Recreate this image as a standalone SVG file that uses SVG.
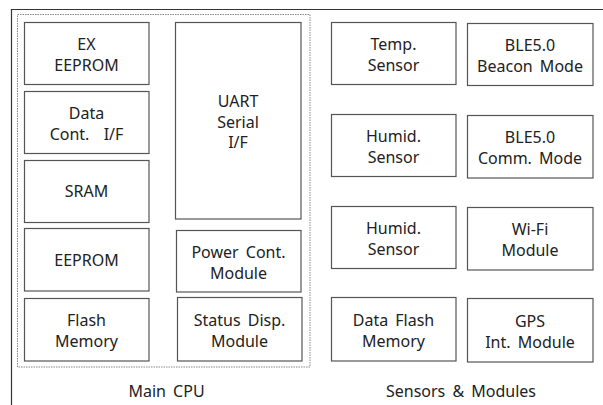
<svg xmlns="http://www.w3.org/2000/svg" width="603" height="405" viewBox="0 0 603 405">
<style>
.box{fill:#fff;stroke:#555;stroke-width:1.2}
.t{font-family:"Noto Sans","DejaVu Sans",sans-serif;font-size:16px;word-spacing:3px;fill:#222;text-anchor:middle;white-space:pre}
.frame{fill:none;stroke:#333;stroke-width:1.2}
.dash{fill:none;stroke:#888;stroke-width:1;stroke-dasharray:1.5 1}
</style>
<rect x="0" y="0" width="603" height="405" fill="#fff"/>
<path class="frame" d="M11.5 405 V9.5 H603"/>
<rect class="dash" x="17.5" y="14.5" width="292.5" height="352.5"/>
<g id="ex-eeprom"><rect class="box" x="24.5" y="22.5" width="124.5" height="62"/><text class="t" x="86.5" y="50">EX</text><text class="t" x="86.5" y="70.5">EEPROM</text></g>
<g id="data-cont"><rect class="box" x="24.5" y="91.5" width="124.5" height="62"/><text class="t" x="86.5" y="119">Data</text><text class="t" x="86.5" y="139.5">Cont.  I/F</text></g>
<g id="sram"><rect class="box" x="24.5" y="160.5" width="124.5" height="62"/><text class="t" x="86.5" y="197">SRAM</text></g>
<g id="eeprom"><rect class="box" x="24.5" y="228.5" width="124.5" height="62.5"/><text class="t" x="86.5" y="265.5">EEPROM</text></g>
<g id="flash"><rect class="box" x="24.5" y="298.5" width="124.5" height="62.5"/><text class="t" x="86.5" y="326">Flash</text><text class="t" x="86.5" y="346.5">Memory</text></g>
<g id="uart"><rect class="box" x="175.5" y="22.5" width="125.5" height="196.5"/><text class="t" x="238" y="107">UART</text><text class="t" x="238" y="127.5">Serial</text><text class="t" x="238" y="148">I/F</text></g>
<g id="power"><rect class="box" x="176.5" y="230.5" width="124.5" height="61.5"/><text class="t" x="238.5" y="258">Power Cont.</text><text class="t" x="238.5" y="279">Module</text></g>
<g id="status"><rect class="box" x="177.5" y="297.5" width="124.5" height="63.5"/><text class="t" x="239.5" y="326">Status Disp.</text><text class="t" x="239.5" y="346.5">Module</text></g>
<g id="temp"><rect class="box" x="331.5" y="22.5" width="124.5" height="62"/><text class="t" x="393.5" y="50">Temp.</text><text class="t" x="393.5" y="70.5">Sensor</text></g>
<g id="ble-beacon"><rect class="box" x="467.5" y="23.5" width="125.5" height="62"/><text class="t" x="530" y="51">BLE5.0</text><text class="t" x="530" y="71.5">Beacon Mode</text></g>
<g id="humid1"><rect class="box" x="331.5" y="114.5" width="124.5" height="62"/><text class="t" x="393.5" y="142">Humid.</text><text class="t" x="393.5" y="162.5">Sensor</text></g>
<g id="ble-comm"><rect class="box" x="467.5" y="115.5" width="125.5" height="62.5"/><text class="t" x="530" y="143">BLE5.0</text><text class="t" x="530" y="163.5">Comm. Mode</text></g>
<g id="humid2"><rect class="box" x="331.5" y="206.5" width="124.5" height="62"/><text class="t" x="393.5" y="234">Humid.</text><text class="t" x="393.5" y="254.5">Sensor</text></g>
<g id="wifi"><rect class="box" x="467.5" y="207.5" width="125.5" height="62.5"/><text class="t" x="530" y="235">Wi-Fi</text><text class="t" x="530" y="255.5">Module</text></g>
<g id="data-flash"><rect class="box" x="331.5" y="297.5" width="124.5" height="63.5"/><text class="t" x="393.5" y="326">Data Flash</text><text class="t" x="393.5" y="346.5">Memory</text></g>
<g id="gps"><rect class="box" x="467.5" y="298.5" width="125.5" height="63.5"/><text class="t" x="530" y="327">GPS</text><text class="t" x="530" y="347.5">Int. Module</text></g>
<g id="labels"><text class="t" x="166.5" y="397">Main CPU</text><text class="t" x="461" y="397">Sensors &amp; Modules</text></g>
<g id="connectors"></g>
</svg>
